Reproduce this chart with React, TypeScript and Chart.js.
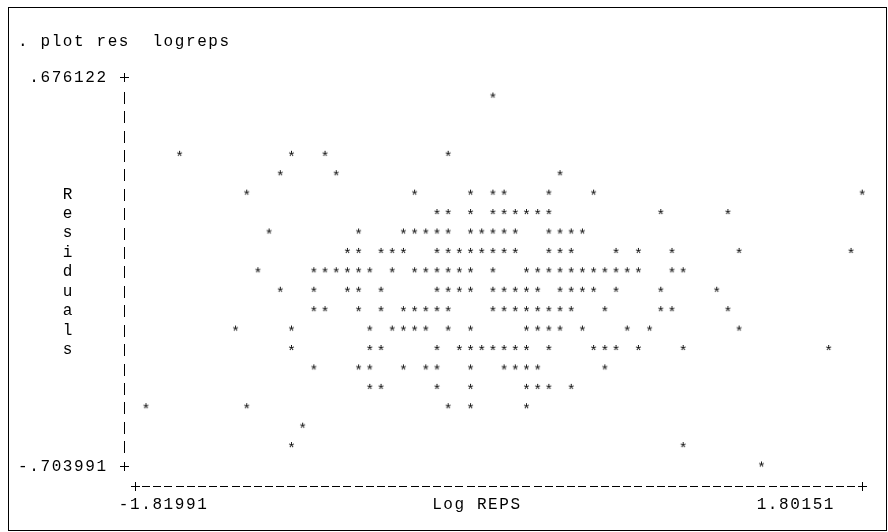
import React, { useEffect, useRef } from "react";
import { Chart, registerables } from "chart.js";

Chart.register(...registerables);

// Axis extremes printed by Stata's text plot
const X_MIN = -1.81991;
const X_MAX = 1.80151;
const Y_MAX = 0.676122;
const Y_MIN = -0.703991;

// Text-plot grid: 64 column steps between x min and x max, 20 row steps between y max and y min
const COL_STEPS = 64;
const ROW_STEPS = 20;

// Star columns for each text row (row 0 = ".676122" line, row 20 = "-.703991" line)
const row00: number[] = [];
const row01 = [31];
const row02: number[] = [];
const row03: number[] = [];
const row04 = [3, 13, 16, 27];
const row05 = [12, 17, 37];
const row06 = [9, 24, 29, 31, 32, 36, 40, 64];
const row07 = [26, 27, 29, 31, 32, 33, 34, 35, 36, 46, 52];
const row08 = [11, 19, 23, 24, 25, 26, 27, 29, 30, 31, 32, 33, 36, 37, 38, 39];
const row09 = [18, 19, 21, 22, 23, 26, 27, 28, 29, 30, 31, 32, 33, 36, 37, 38, 42, 44, 47, 53, 63];
const row10 = [10, 15, 16, 17, 18, 19, 20, 22, 24, 25, 26, 27, 28, 29, 31, 34, 35, 36, 37, 38, 39, 40, 41, 42, 43, 44, 47, 48];
const row11 = [12, 15, 18, 19, 21, 26, 27, 28, 29, 31, 32, 33, 34, 35, 37, 38, 39, 40, 42, 46, 51];
const row12 = [15, 16, 19, 21, 23, 24, 25, 26, 27, 31, 32, 33, 34, 35, 36, 37, 38, 41, 46, 47, 52];
const row13 = [8, 13, 20, 22, 23, 24, 25, 27, 29, 34, 35, 36, 37, 39, 43, 45, 53];
const row14 = [13, 20, 21, 26, 28, 29, 30, 31, 32, 33, 34, 36, 40, 41, 42, 44, 48, 61];
const row15 = [15, 19, 20, 23, 25, 26, 29, 32, 33, 34, 35, 41];
const row16 = [20, 21, 26, 29, 34, 35, 36, 38];
const row17 = [0, 9, 27, 29, 34];
const row18 = [14];
const row19 = [13, 48];
const row20 = [55];

const starRows = [
  row00, row01, row02, row03, row04, row05, row06, row07, row08, row09, row10,
  row11, row12, row13, row14, row15, row16, row17, row18, row19, row20,
];

// Text labels
const commandLine = ". plot res  logreps";
const yTopLabel = ".676122";
const yBottomLabel = "-.703991";
const yTitle = "Residuals";
const xTitle = "Log REPS";
const xMinLabel = "-1.81991";
const xMaxLabel = "1.80151";

const FONT = '16px "Liberation Mono", "Courier New", monospace';

function makeStarImage(): HTMLCanvasElement {
  const c = document.createElement("canvas");
  c.width = 13;
  c.height = 13;
  const ctx = c.getContext("2d")!;
  ctx.font = '15px "Liberation Mono", "Courier New", monospace';
  ctx.fillStyle = "#000";
  ctx.textAlign = "center";
  ctx.textBaseline = "alphabetic";
  const m = ctx.measureText("*");
  const asc = m.actualBoundingBoxAscent;
  const desc = m.actualBoundingBoxDescent;
  const baseline = 6.5 + (asc - desc) / 2;
  const left = m.actualBoundingBoxLeft;
  const right = m.actualBoundingBoxRight;
  const xc = 6.5 + (left - right) / 2;
  ctx.fillText("*", xc, baseline);
  return c;
}

const textPlugin = {
  id: "stataText",
  afterDraw(chart: any) {
    const { ctx, chartArea } = chart;
    const colW = (chartArea.right - chartArea.left) / COL_STEPS;
    const rowH = (chartArea.bottom - chartArea.top) / ROW_STEPS;
    const colX = (c: number) => chartArea.left + c * colW;
    const starY = (r: number) => chartArea.top + r * rowH;
    const baseY = (r: number) => starY(r) + 6.5;
    ctx.save();
    ctx.font = FONT;
    ctx.fillStyle = "#000";
    ctx.textAlign = "center";
    ctx.textBaseline = "alphabetic";
    const put = (s: string, c0: number, r: number, dy = 0) => {
      for (let i = 0; i < s.length; i++) {
        const ch = s[i];
        if (ch === " ") continue;
        ctx.fillText(ch, colX(c0 + i), baseY(r) + dy);
      }
    };
    // thin Courier-like axis glyphs
    ctx.strokeStyle = "#000";
    ctx.lineWidth = 1;
    const plus = (c: number, r: number, dy: number) => {
      const x = Math.round(colX(c)) + 0.5;
      const y = Math.round(starY(r) + dy) + 0.5;
      ctx.beginPath();
      ctx.moveTo(x - 4.5, y);
      ctx.lineTo(x + 4.5, y);
      ctx.moveTo(x, y - 4.5);
      ctx.lineTo(x, y + 4.5);
      ctx.stroke();
    };
    const bar = (c: number, r: number) => {
      const x = Math.round(colX(c)) + 0.5;
      const y = starY(r) + 2.7;
      ctx.beginPath();
      ctx.moveTo(x, Math.round(y - 6));
      ctx.lineTo(x, Math.round(y + 6));
      ctx.stroke();
    };
    const dash = (c: number, r: number) => {
      const x = colX(c);
      const y = Math.round(starY(r) + 2.3) + 0.5;
      ctx.beginPath();
      ctx.moveTo(Math.round(x - 4), y);
      ctx.lineTo(Math.round(x + 4), y);
      ctx.stroke();
    };

    put(commandLine, -11, -2, 3);
    put(yTopLabel, -10, 0);
    plus(-2, 0, 1.7);
    for (let r = 1; r < ROW_STEPS; r++) bar(-2, r);
    put(yBottomLabel, -11, ROW_STEPS);
    plus(-2, ROW_STEPS, 1.7);
    for (let i = 0; i < yTitle.length; i++) put(yTitle[i], -7, 6 + i);
    plus(-1, ROW_STEPS + 1, 2.3);
    for (let c = 0; c < COL_STEPS; c++) dash(c, ROW_STEPS + 1);
    plus(COL_STEPS, ROW_STEPS + 1, 2.3);
    put(xMinLabel, -2, ROW_STEPS + 2);
    put(xTitle, 26, ROW_STEPS + 2);
    put(xMaxLabel, 55, ROW_STEPS + 2);
    // frame
    ctx.strokeRect(8.5, 7.5, 878, 523);
    ctx.restore();
  },
};

export default function App() {
  const ref = useRef<HTMLCanvasElement>(null);
  useEffect(() => {
    if (!ref.current) return;
    const points: { x: number; y: number }[] = [];
    starRows.forEach((cols, r) => {
      const y = Y_MAX - (r / ROW_STEPS) * (Y_MAX - Y_MIN);
      cols.forEach((c) => {
        points.push({ x: X_MIN + (c / COL_STEPS) * (X_MAX - X_MIN), y });
      });
    });
    const chart = new Chart(ref.current, {
      type: "scatter",
      data: {
        datasets: [
          {
            data: points,
            pointStyle: makeStarImage(),
            pointRadius: 3,
            clip: false,
          } as any,
        ],
      },
      options: {
        responsive: false,
        animation: false,
        devicePixelRatio: 1,
        layout: { padding: { left: 146, right: 888 - 862.2, top: 75.6, bottom: 532 - 464 } },
        plugins: { legend: { display: false }, tooltip: { enabled: false } },
        scales: {
          x: { type: "linear", min: X_MIN, max: X_MAX, display: false },
          y: { type: "linear", min: Y_MIN, max: Y_MAX, display: false },
        },
      },
      plugins: [textPlugin],
    });
    return () => chart.destroy();
  }, []);
  return (
    <div style={{ position: "absolute", left: 0, top: 0, width: 888, height: 532, background: "#fff" }}>
      <canvas ref={ref} width={888} height={532} style={{ display: "block", width: 888, height: 532 }} />
    </div>
  );
}
